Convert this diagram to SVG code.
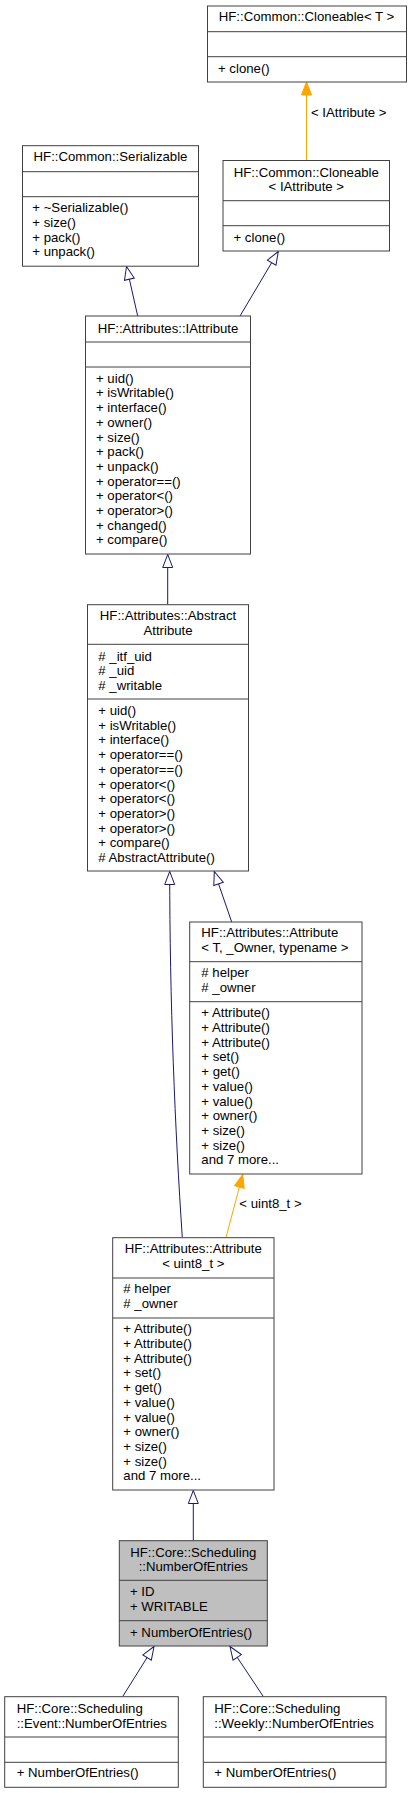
<svg xmlns="http://www.w3.org/2000/svg" width="411" height="1793" viewBox="0 0 411 1793">
<style>
.box{fill:#fff;stroke:#404040;stroke-width:1}
.sel{fill:#bfbfbf;stroke:#404040;stroke-width:1}
.sep{stroke:#404040;stroke-width:1}
text{font-family:"Liberation Sans",Arial,sans-serif;font-size:13.2px;fill:#000}
.c{text-anchor:middle}
.e{fill:none;stroke:#191970;stroke-width:1}
.o{fill:none;stroke:#ffa500;stroke-width:1}
</style>
<defs>
<marker id="hollow" markerUnits="userSpaceOnUse" orient="auto" refX="0" refY="0" markerWidth="20" markerHeight="20" overflow="visible"><path d="M0,0 L13,-5 L13,5 Z" fill="#fff" stroke="#191970"/></marker>
<marker id="filled" markerUnits="userSpaceOnUse" orient="auto" refX="0" refY="0" markerWidth="20" markerHeight="20" overflow="visible"><path d="M0,0 L13,-5 L13,5 Z" fill="#ffa500" stroke="#ffa500"/></marker>
</defs>
<rect width="411" height="1793" fill="#fff"/>
<g id="connectors">
<path class="o" d="M306.5,82 L306.5,160.5" marker-start="url(#filled)"/>
<text x="311" y="117">&lt; IAttribute &gt;</text>
<path class="e" d="M126.5,266.5 L137.7,316" marker-start="url(#hollow)"/>
<path class="e" d="M278.3,251.5 L240,316" marker-start="url(#hollow)"/>
<path class="e" d="M167.7,554.5 L167.7,604.5" marker-start="url(#hollow)"/>
<path class="e" d="M169.7,871.5 C169.7,1000 175,1130 182.3,1237.5" marker-start="url(#hollow)"/>
<path class="e" d="M214.3,871.5 L231.7,922" marker-start="url(#hollow)"/>
<path class="o" d="M242.7,1174.5 L226,1237.5" marker-start="url(#filled)"/>
<text x="239.3" y="1208.3">&lt; uint8_t &gt;</text>
<path class="e" d="M193.3,1490.5 L193.3,1540.5" marker-start="url(#hollow)"/>
<path class="e" d="M154,1646.5 L122.7,1696.5" marker-start="url(#hollow)"/>
<path class="e" d="M230,1646.5 L263.3,1696.5" marker-start="url(#hollow)"/>
</g>
<g id="cloneable_t">
<rect class="box" x="207.5" y="6" width="199" height="76"/>
<line class="sep" x1="207.5" y1="31.7" x2="406.5" y2="31.7"/>
<line class="sep" x1="207.5" y1="56.7" x2="406.5" y2="56.7"/>
<text class="c" x="306.5" y="21">HF::Common::Cloneable&lt; T &gt;</text>
<text x="218" y="73">+ clone()</text>
</g>
<g id="serializable">
<rect class="box" x="22.5" y="145.7" width="176" height="120.5"/>
<line class="sep" x1="22.5" y1="171.7" x2="198.5" y2="171.7"/>
<line class="sep" x1="22.5" y1="196.7" x2="198.5" y2="196.7"/>
<text class="c" x="110.5" y="161">HF::Common::Serializable</text>
<text x="32.3" y="212.3">+ ~Serializable()</text>
<text x="32.3" y="227">+ size()</text>
<text x="32.3" y="241.7">+ pack()</text>
<text x="32.3" y="256.4">+ unpack()</text>
</g>
<g id="cloneable_iattribute">
<rect class="box" x="223" y="160.5" width="166.5" height="90.5"/>
<line class="sep" x1="223" y1="200.7" x2="389.5" y2="200.7"/>
<line class="sep" x1="223" y1="225.7" x2="389.5" y2="225.7"/>
<text class="c" x="306.3" y="176.7">HF::Common::Cloneable</text>
<text class="c" x="306.3" y="191.2">&lt; IAttribute &gt;</text>
<text x="233.5" y="241.7">+ clone()</text>
</g>
<g id="iattribute">
<rect class="box" x="85.5" y="316" width="165" height="238"/>
<line class="sep" x1="85.5" y1="342" x2="250.5" y2="342"/>
<line class="sep" x1="85.5" y1="367" x2="250.5" y2="367"/>
<text class="c" x="168" y="332.7">HF::Attributes::IAttribute</text>
<text x="96" y="382.7">+ uid()</text>
<text x="96" y="397.4">+ isWritable()</text>
<text x="96" y="412.1">+ interface()</text>
<text x="96" y="426.8">+ owner()</text>
<text x="96" y="441.5">+ size()</text>
<text x="96" y="456.2">+ pack()</text>
<text x="96" y="470.9">+ unpack()</text>
<text x="96" y="485.6">+ operator==()</text>
<text x="96" y="500.3">+ operator&lt;()</text>
<text x="96" y="515">+ operator&gt;()</text>
<text x="96" y="529.7">+ changed()</text>
<text x="96" y="544.4">+ compare()</text>
</g>
<g id="abstract_attribute">
<rect class="box" x="87.5" y="604.7" width="161" height="266.3"/>
<line class="sep" x1="87.5" y1="644.3" x2="248.5" y2="644.3"/>
<line class="sep" x1="87.5" y1="699" x2="248.5" y2="699"/>
<text class="c" x="168" y="620.3">HF::Attributes::Abstract</text>
<text class="c" x="168" y="634.8">Attribute</text>
<text x="98.3" y="660.7"># _itf_uid</text>
<text x="98.3" y="675.3"># _uid</text>
<text x="98.3" y="690"># _writable</text>
<text x="98.3" y="715">+ uid()</text>
<text x="98.3" y="729.7">+ isWritable()</text>
<text x="98.3" y="744.4">+ interface()</text>
<text x="98.3" y="759.1">+ operator==()</text>
<text x="98.3" y="773.8">+ operator==()</text>
<text x="98.3" y="788.5">+ operator&lt;()</text>
<text x="98.3" y="803.2">+ operator&lt;()</text>
<text x="98.3" y="817.9">+ operator&gt;()</text>
<text x="98.3" y="832.6">+ operator&gt;()</text>
<text x="98.3" y="847.3">+ compare()</text>
<text x="98.3" y="862"># AbstractAttribute()</text>
</g>
<g id="attribute_t">
<rect class="box" x="189.7" y="922" width="172.3" height="252"/>
<line class="sep" x1="189.7" y1="961.7" x2="362" y2="961.7"/>
<line class="sep" x1="189.7" y1="1001.7" x2="362" y2="1001.7"/>
<text x="201.3" y="937.3">HF::Attributes::Attribute</text>
<text x="201.3" y="952">&lt; T, _Owner, typename &gt;</text>
<text x="201.3" y="977.3"># helper</text>
<text x="201.3" y="992"># _owner</text>
<text x="201.3" y="1017.3">+ Attribute()</text>
<text x="201.3" y="1032">+ Attribute()</text>
<text x="201.3" y="1046.7">+ Attribute()</text>
<text x="201.3" y="1061.4">+ set()</text>
<text x="201.3" y="1076.1">+ get()</text>
<text x="201.3" y="1090.8">+ value()</text>
<text x="201.3" y="1105.5">+ value()</text>
<text x="201.3" y="1120.2">+ owner()</text>
<text x="201.3" y="1134.9">+ size()</text>
<text x="201.3" y="1149.6">+ size()</text>
<text x="201.3" y="1164.3">and 7 more...</text>
</g>
<g id="attribute_uint8">
<rect class="box" x="112.7" y="1237.7" width="161.3" height="252.3"/>
<line class="sep" x1="112.7" y1="1278" x2="274" y2="1278"/>
<line class="sep" x1="112.7" y1="1318" x2="274" y2="1318"/>
<text class="c" x="193.3" y="1253.3">HF::Attributes::Attribute</text>
<text class="c" x="193.3" y="1268">&lt; uint8_t &gt;</text>
<text x="123.3" y="1293.3"># helper</text>
<text x="123.3" y="1308"># _owner</text>
<text x="123.3" y="1333.3">+ Attribute()</text>
<text x="123.3" y="1348">+ Attribute()</text>
<text x="123.3" y="1362.7">+ Attribute()</text>
<text x="123.3" y="1377.4">+ set()</text>
<text x="123.3" y="1392.1">+ get()</text>
<text x="123.3" y="1406.8">+ value()</text>
<text x="123.3" y="1421.5">+ value()</text>
<text x="123.3" y="1436.2">+ owner()</text>
<text x="123.3" y="1450.9">+ size()</text>
<text x="123.3" y="1465.6">+ size()</text>
<text x="123.3" y="1480.3">and 7 more...</text>
</g>
<g id="number_of_entries">
<rect class="sel" x="119.3" y="1540.7" width="148" height="105.3"/>
<line class="sep" x1="119.3" y1="1580.3" x2="267.3" y2="1580.3"/>
<line class="sep" x1="119.3" y1="1620.7" x2="267.3" y2="1620.7"/>
<text class="c" x="193.3" y="1556.7">HF::Core::Scheduling</text>
<text class="c" x="193.3" y="1571.3">::NumberOfEntries</text>
<text x="130" y="1596">+ ID</text>
<text x="130" y="1610.7">+ WRITABLE</text>
<text x="130" y="1636.7">+ NumberOfEntries()</text>
</g>
<g id="event_number_of_entries">
<rect class="box" x="4.7" y="1696.7" width="173.6" height="90.6"/>
<line class="sep" x1="4.7" y1="1737" x2="178.3" y2="1737"/>
<line class="sep" x1="4.7" y1="1762.3" x2="178.3" y2="1762.3"/>
<text x="16.7" y="1713.3">HF::Core::Scheduling</text>
<text x="16.7" y="1728">::Event::NumberOfEntries</text>
<text x="16.7" y="1777.3">+ NumberOfEntries()</text>
</g>
<g id="weekly_number_of_entries">
<rect class="box" x="203.3" y="1696.7" width="182.7" height="90.6"/>
<line class="sep" x1="203.3" y1="1737" x2="386" y2="1737"/>
<line class="sep" x1="203.3" y1="1762.3" x2="386" y2="1762.3"/>
<text x="214.3" y="1713.3">HF::Core::Scheduling</text>
<text x="214.3" y="1728">::Weekly::NumberOfEntries</text>
<text x="214.3" y="1777.3">+ NumberOfEntries()</text>
</g>
</svg>
